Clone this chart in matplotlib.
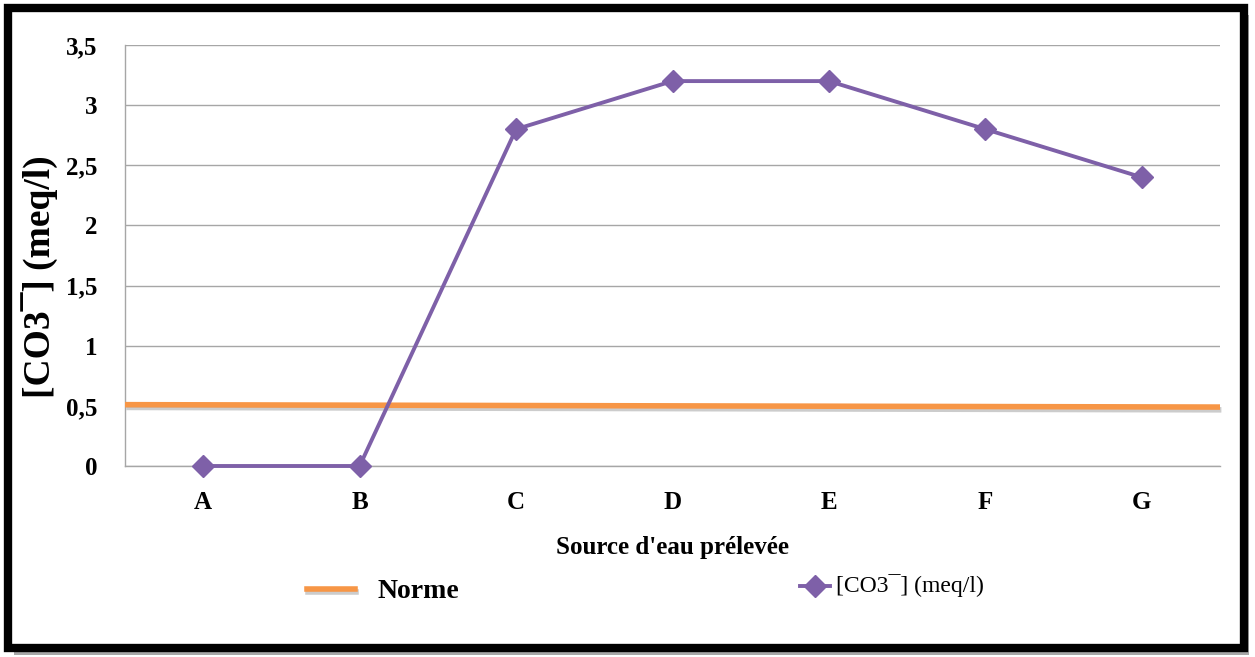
import matplotlib
matplotlib.use("Agg")
import matplotlib.pyplot as plt
from matplotlib.patches import Rectangle
from matplotlib.lines import Line2D
import matplotlib.patheffects as pe

categories = ["A", "B", "C", "D", "E", "F", "G"]
co3_values = [0, 0, 2.8, 3.2, 3.2, 2.8, 2.4]
norme_values = [0.51, 0.49]   # orange reference line, left and right ends
y_ticks = [0, 0.5, 1, 1.5, 2, 2.5, 3, 3.5]
y_tick_labels = ["0", "0,5", "1", "1,5", "2", "2,5", "3", "3,5"]

purple = "#7E60A8"
orange = "#F79646"
serif = ["Liberation Serif", "DejaVu Serif"]

W, H = 1255, 657
fig = plt.figure(figsize=(W / 100, H / 100), dpi=100)
fig.patch.set_facecolor("white")

# outer frame with shadow
fig.patches.append(Rectangle((14 / W, 1 - 657 / H + 2 / H), (1249 - 14) / W, (652 - 12) / H,
                             transform=fig.transFigure, facecolor="#a8a8a8", edgecolor="none",
                             zorder=0))
fig.patches.append(Rectangle((8 / W, 1 - 648 / H), (1244 - 8) / W, (648 - 8) / H,
                             transform=fig.transFigure, facecolor="white", edgecolor="black",
                             linewidth=6, zorder=0.5))

ax = fig.add_axes([125 / W, 1 - 466 / H, (1220 - 125) / W, (466 - 45) / H])
ax.set_zorder(2)
ax.set_facecolor("none")
x = list(range(len(categories)))
ax.set_xlim(-0.5, len(categories) - 0.5)
ax.set_ylim(0, 3.5)

ax.set_yticks(y_ticks)
ax.set_yticklabels(y_tick_labels, fontfamily=serif, fontweight="bold", fontsize=18)
ax.set_xticks(x)
ax.set_xticklabels(categories, fontfamily=serif, fontweight="bold", fontsize=18)
ax.tick_params(axis="both", length=0)
ax.tick_params(axis="y", pad=20)
ax.tick_params(axis="x", pad=18)

ax.grid(axis="y", color="#a6a6a6", linewidth=1)
ax.set_axisbelow(True)
for s in ["top", "right"]:
    ax.spines[s].set_visible(False)
for s in ["left", "bottom"]:
    ax.spines[s].set_color("#a6a6a6")
    ax.spines[s].set_linewidth(1)

ax.plot([-0.5, len(categories) - 0.5], norme_values, color=orange, linewidth=4,
        solid_capstyle="butt", clip_on=False, zorder=3,
        path_effects=[pe.SimpleLineShadow(offset=(1, -2), shadow_color="gray", alpha=0.4),
                      pe.Normal()])
ax.plot(x, co3_values, color=purple, linewidth=2.8, marker="D", markersize=11,
        markerfacecolor=purple, markeredgecolor=purple, zorder=4, clip_on=False)

ax.set_xlabel("Source d'eau prélevée", fontfamily=serif, fontweight="bold", fontsize=18)
ax.xaxis.set_label_coords(0.5, -70 / 421)
ax.set_ylabel("[CO3¯] (meq/l)", fontfamily=serif, fontweight="bold", fontsize=27)
ax.yaxis.set_label_coords(-67 / 1095, 0.5 - 21 / 421)

# legend drawn manually
fig.add_artist(Line2D([307 / W, 355 / W], [1 - 589 / H, 1 - 589 / H], color=orange, linewidth=4,
                      transform=fig.transFigure, zorder=3,
                      path_effects=[pe.SimpleLineShadow(offset=(1, -2), shadow_color="gray", alpha=0.4),
                                    pe.Normal()]))
fig.text(378 / W, 1 - 592 / H, "Norme", fontfamily=serif, fontweight="bold", fontsize=20,
         ha="left", va="center", zorder=3)
fig.add_artist(Line2D([800 / W, 830 / W], [1 - 586 / H, 1 - 586 / H], color=purple, linewidth=2.8,
                      transform=fig.transFigure, zorder=3))
fig.add_artist(Line2D([815 / W], [1 - 586 / H], color=purple, marker="D", markersize=11,
                      linestyle="none", transform=fig.transFigure, zorder=3))
fig.text(836 / W, 1 - 586 / H, "[CO3¯] (meq/l)", fontfamily=serif, fontsize=17,
         ha="left", va="center", zorder=3)

fig.savefig("out.png", dpi=100)
